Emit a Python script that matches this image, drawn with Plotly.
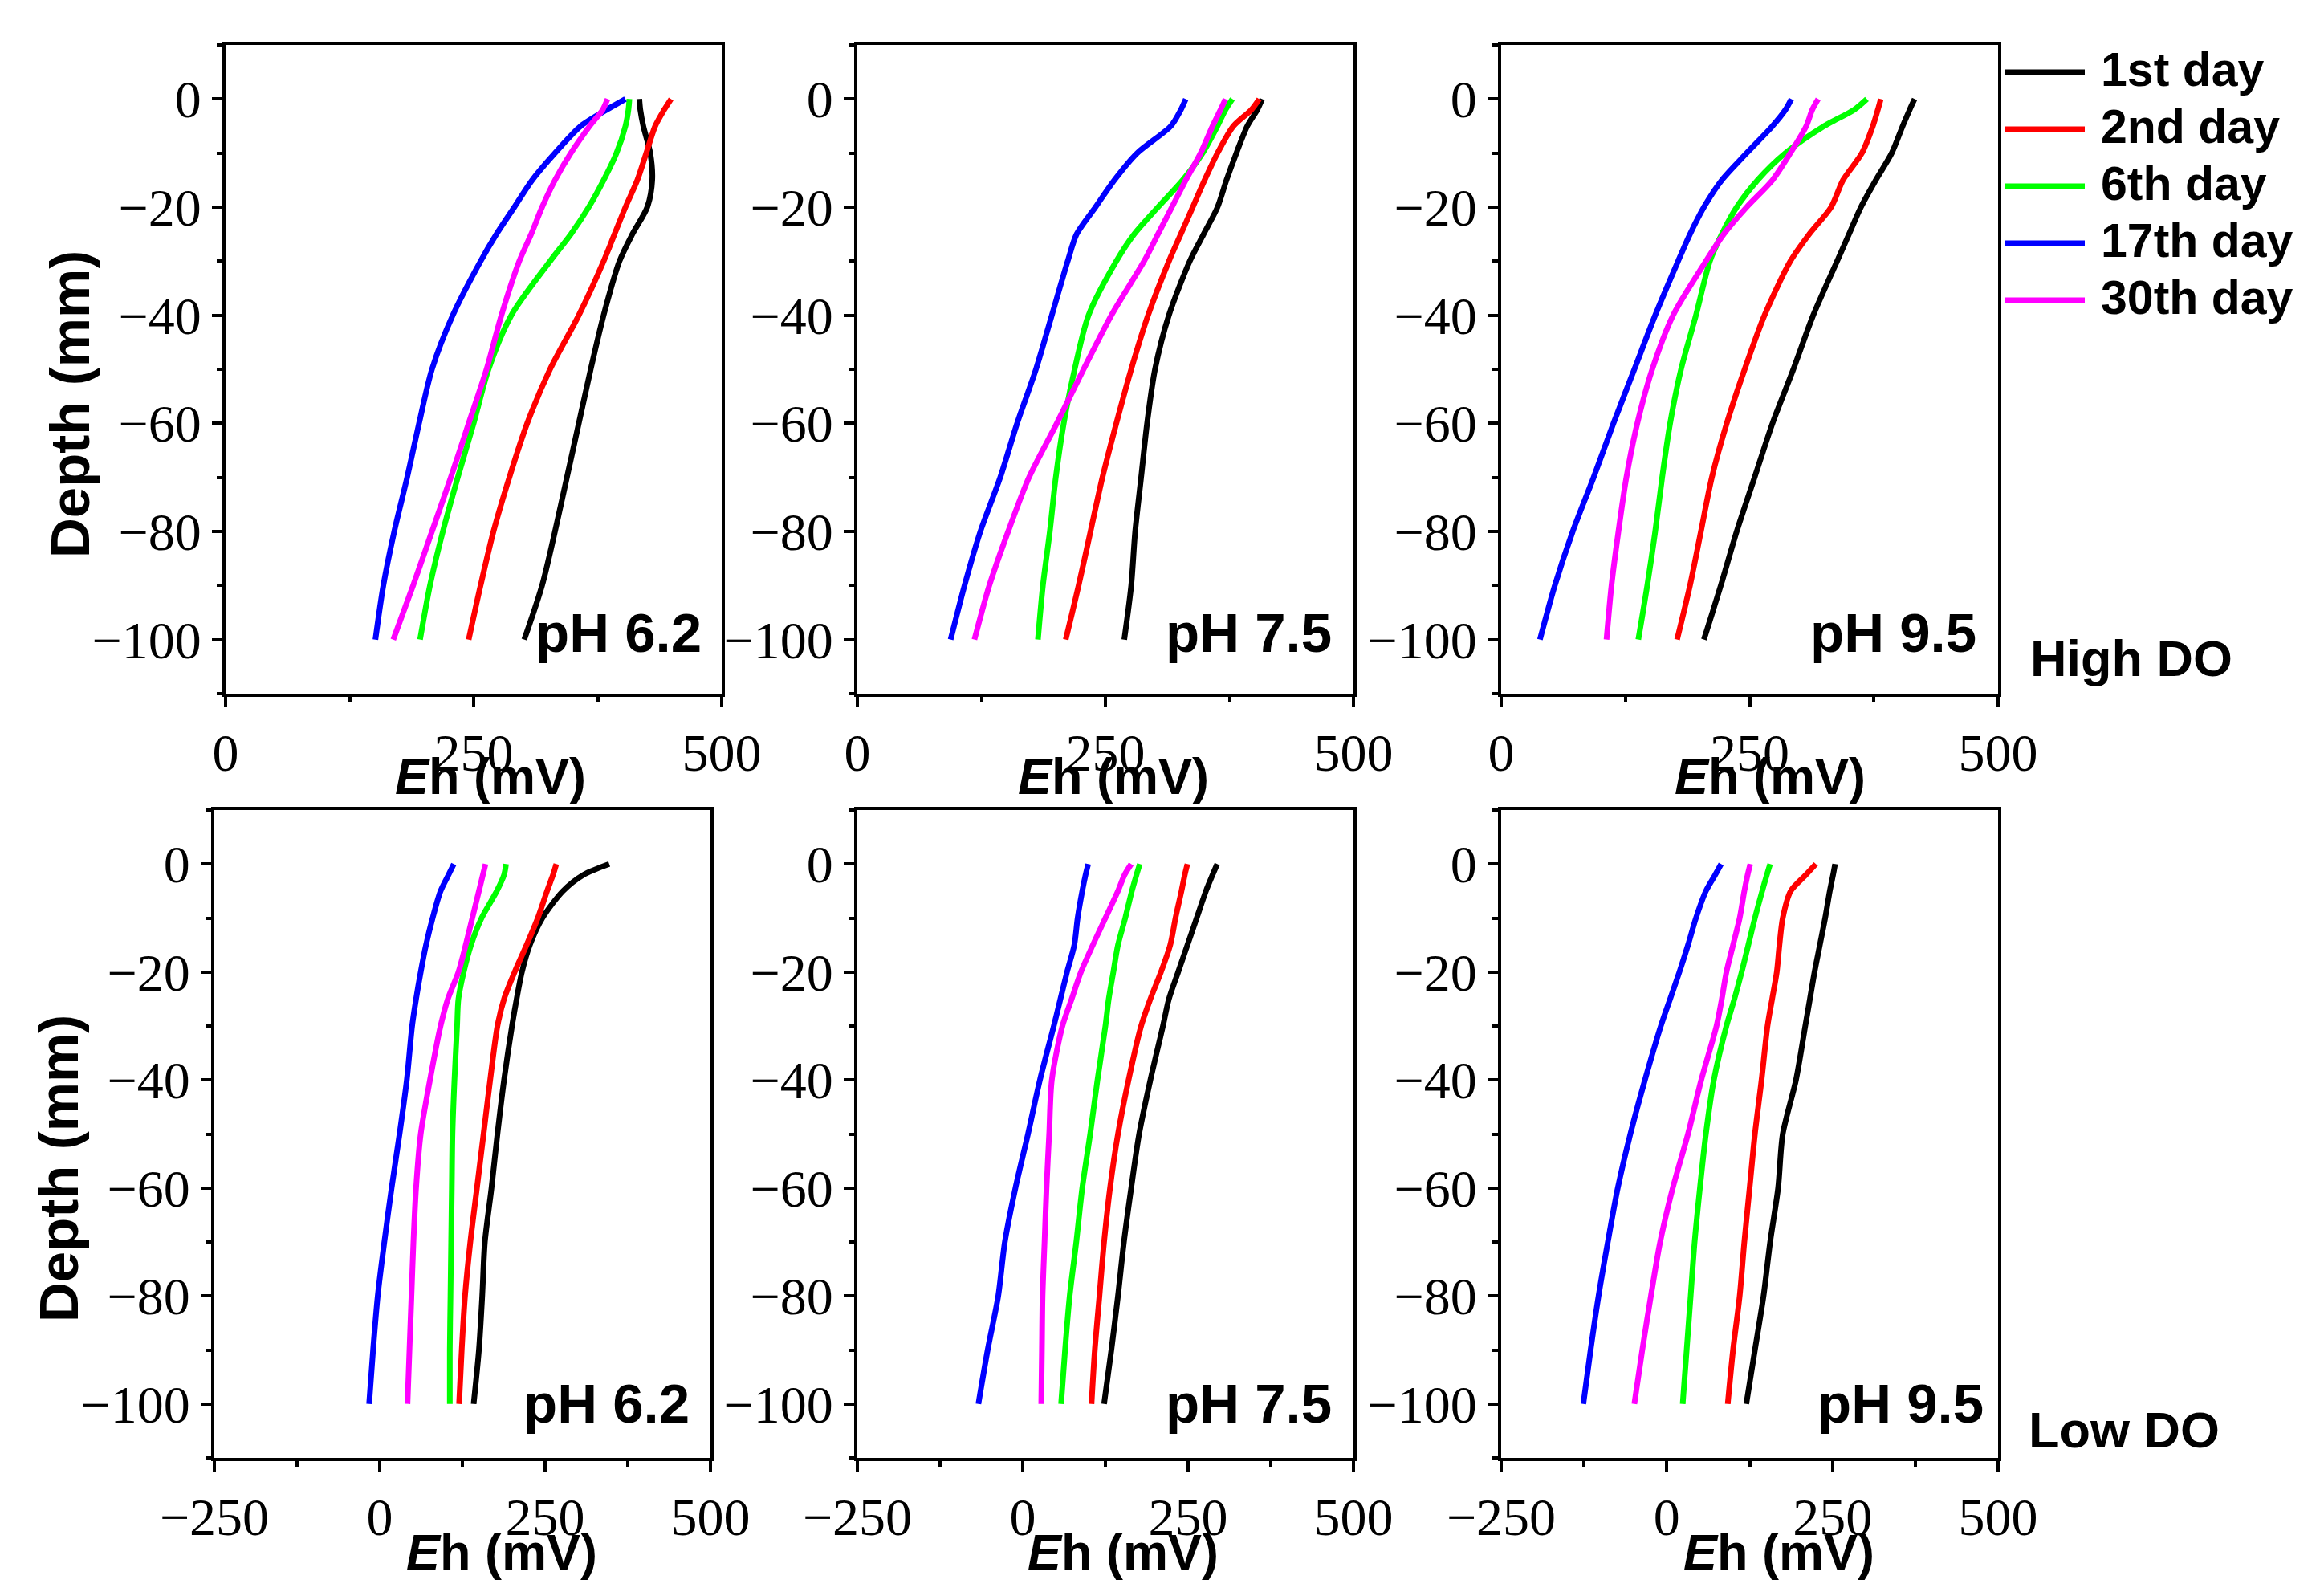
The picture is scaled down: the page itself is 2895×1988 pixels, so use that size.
import plotly.graph_objects as go
from plotly.subplots import make_subplots

# depth grid shared by every profile (mm)
depth = [0, -2, -5, -10, -15, -20, -25, -30, -40, -50, -60, -70, -80, -90, -100]

days = ['1st day', '2nd day', '6th day', '17th day', '30th day']
colors = ['#000000', '#ff0000', '#00ff00', '#0000ff', '#ff00ff']

# Eh (mV), one list per day
high_62 = [
    [417, 418, 421, 428, 430, 425, 410, 397, 381, 368, 356, 344, 332, 319, 301],
    [449, 442, 433, 424, 415, 403, 392, 381, 356, 327, 304, 286, 270, 257, 245],
    [407, 406, 403, 394, 381, 366, 348, 327, 288, 265, 250, 234, 219, 206, 196],
    [403, 384, 358, 332, 309, 291, 273, 257, 229, 208, 195, 183, 170, 159, 151],
    [385, 380, 367, 348, 332, 319, 308, 296, 278, 263, 245, 227, 208, 189, 169],
]
high_75 = [
    [408, 403, 393, 382, 372, 363, 349, 335, 314, 300, 292, 286, 280, 276, 269],
    [405, 397, 379, 363, 350, 338, 326, 314, 293, 276, 261, 247, 235, 223, 210],
    [378, 371, 363, 348, 328, 303, 279, 261, 233, 219, 208, 200, 194, 187, 182],
    [331, 326, 316, 282, 259, 240, 221, 212, 196, 180, 161, 144, 124, 108, 94],
    [371, 366, 358, 346, 331, 317, 303, 289, 256, 228, 201, 173, 152, 133, 118],
]
high_95 = [
    [416, 411, 404, 393, 377, 362, 350, 338, 314, 294, 273, 255, 237, 221, 204],
    [382, 379, 374, 363, 344, 332, 310, 291, 265, 245, 227, 212, 201, 190, 177],
    [368, 355, 325, 286, 258, 237, 222, 210, 196, 181, 170, 162, 155, 147, 138],
    [292, 286, 273, 247, 222, 204, 190, 178, 155, 134, 113, 93, 72, 54, 39],
    [319, 313, 307, 291, 273, 247, 224, 206, 173, 152, 137, 126, 118, 111, 106],
]
low_62 = [
    [347, 308, 277, 246, 227, 215, 207, 200, 188, 178, 169, 159, 155, 150, 142],
    [267, 262, 253, 239, 222, 204, 188, 178, 167, 157, 147, 137, 129, 124, 120],
    [191, 188, 177, 154, 138, 127, 119, 117, 113, 110, 109, 108, 107, 106, 106],
    [112, 104, 92, 80, 70, 62, 55, 49, 41, 30, 18, 7, -3, -10, -16],
    [160, 156, 150, 140, 130, 119, 103, 92, 76, 62, 55, 51, 48, 45, 42],
]
low_75 = [
    [294, 287, 277, 263, 249, 235, 221, 212, 193, 176, 164, 153, 144, 134, 123],
    [249, 245, 240, 231, 223, 209, 193, 179, 160, 144, 132, 123, 116, 109, 104],
    [177, 172, 165, 155, 144, 137, 130, 125, 113, 102, 90, 81, 71, 64, 58],
    [99, 95, 90, 83, 78, 67, 57, 47, 26, 8, -11, -27, -37, -53, -67],
    [164, 154, 144, 125, 106, 88, 74, 60, 44, 40, 36, 33, 30, 29, 28],
]
low_95 = [
    [254, 251, 246, 239, 231, 223, 216, 209, 195, 175, 168, 156, 146, 133, 120],
    [225, 210, 187, 175, 170, 166, 159, 152, 143, 133, 125, 117, 110, 100, 92],
    [156, 151, 144, 133, 123, 113, 102, 90, 71, 59, 50, 42, 36, 30, 24],
    [82, 73, 59, 44, 32, 19, 5, -9, -33, -55, -74, -89, -103, -115, -126],
    [126, 122, 117, 110, 100, 90, 83, 75, 52, 32, 9, -10, -24, -37, -49],
]

panels = [high_62, high_75, high_95, low_62, low_75, low_95]
ph_labels = ['pH 6.2', 'pH 7.5', 'pH 9.5', 'pH 6.2', 'pH 7.5', 'pH 9.5']
do_labels = ['High DO', 'Low DO']

W, H = 2895, 1988
OFF = 8  # the page body margin shifts everything by this much


def px(x):
    return (x - OFF) / W


def py(y):
    return 1 - (y - OFF) / H


fig = make_subplots(rows=2, cols=3)

for i, panel in enumerate(panels):
    r = i // 3 + 1
    c = i % 3 + 1
    for j, eh in enumerate(panel):
        fig.add_trace(go.Scatter(x=eh, y=depth, mode='lines', name=days[j],
                                 line=dict(color=colors[j], width=7, shape='spline', smoothing=0.8),
                                 showlegend=False), row=r, col=c)

# panel boxes in pixels (left, right) and (top, bottom)
cols_top = [(281, 899), (1068, 1686), (1870, 2489)]
cols_bot = [(267, 885), (1068, 1686), (1870, 2489)]
rows_px = [(56, 864), (1009, 1816)]

tick_font = dict(family='Liberation Serif', size=66, color='black')
axis_style = dict(showline=True, linecolor='black', linewidth=4, mirror=True,
                  ticks='outside', ticklen=13, tickwidth=3.5, tickcolor='black',
                  showgrid=False, zeroline=False, tickfont=tick_font, automargin=False)

for i in range(6):
    r = i // 3
    c = i % 3
    left, right = (cols_top if r == 0 else cols_bot)[c]
    top, bottom = rows_px[r]
    xname = 'xaxis' if i == 0 else 'xaxis%d' % (i + 1)
    yname = 'yaxis' if i == 0 else 'yaxis%d' % (i + 1)
    if r == 0:
        xr = [0, 500]
    else:
        xr = [-250, 500]
    fig.layout[xname].update(domain=[px(left), px(right)], range=xr, tick0=0, dtick=250,
                             minor=dict(dtick=125, tick0=0, ticks='outside', ticklen=7,
                                        tickwidth=3.5, tickcolor='black'),
                             **axis_style)
    fig.layout[yname].update(domain=[py(bottom), py(top)], range=[-110, 10],
                             tick0=0, dtick=20,
                             minor=dict(dtick=10, tick0=0, ticks='outside', ticklen=7,
                                        tickwidth=3.5, tickcolor='black'),
                             **axis_style)

bold = 'Liberation Sans'
ann = []

# x axis titles
xt_pos = [(611, 967), (1387, 967), (2205, 967), (625, 1933), (1399, 1933), (2216, 1933)]
for x, y in xt_pos:
    ann.append(dict(x=px(x), y=py(y), xref='paper', yref='paper', showarrow=False,
                    text='<b><i>E</i>h (mV)</b>', font=dict(family=bold, size=63, color='black'),
                    xanchor='center', yanchor='middle'))

# y axis titles
for x, y in [(88, 504), (73, 1456)]:
    ann.append(dict(x=px(x), y=py(y), xref='paper', yref='paper', showarrow=False,
                    text='<b>Depth (mm)</b>', textangle=-90,
                    font=dict(family=bold, size=69, color='black'),
                    xanchor='center', yanchor='middle'))

# pH labels inside the panels
ph_pos = [(876, 789), (1661, 789), (2464, 789), (861, 1748), (1661, 1748), (2473, 1748)]
for (x, y), t in zip(ph_pos, ph_labels):
    ann.append(dict(x=px(x), y=py(y), xref='paper', yref='paper', showarrow=False,
                    text='<b>%s</b>' % t, font=dict(family=bold, size=69, color='black'),
                    xanchor='right', yanchor='middle'))

# DO labels on the right
for (x, y), t in zip([(2527, 820), (2525, 1781)], do_labels):
    ann.append(dict(x=px(x), y=py(y), xref='paper', yref='paper', showarrow=False,
                    text='<b>%s</b>' % t, font=dict(family=bold, size=63, color='black'),
                    xanchor='left', yanchor='middle'))

# hand made legend (long line samples)
shapes = []
leg_rows = [90, 161, 232, 303, 374]
for ly, name, col in zip(leg_rows, days, colors):
    shapes.append(dict(type='line', xref='paper', yref='paper',
                       x0=px(2497), x1=px(2597), y0=py(ly), y1=py(ly),
                       line=dict(color=col, width=7)))
    ann.append(dict(x=px(2615), y=py(ly - 3), xref='paper', yref='paper', showarrow=False,
                    text='<b>%s</b>' % name, font=dict(family=bold, size=59, color='black'),
                    xanchor='left', yanchor='middle'))

fig.update_layout(width=W, height=H, margin=dict(l=0, r=0, t=0, b=0),
                  paper_bgcolor='white', plot_bgcolor='white',
                  annotations=ann, shapes=shapes, showlegend=False)

fig.write_html("out.html")
